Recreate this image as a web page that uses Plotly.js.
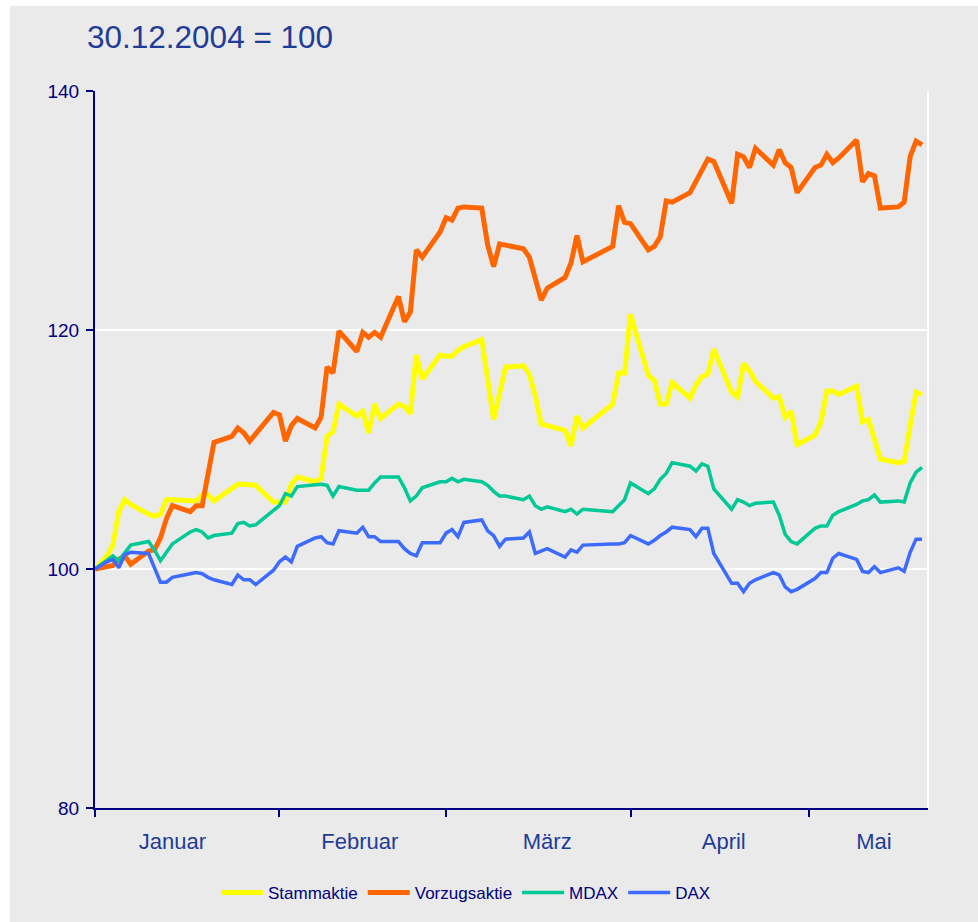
<!DOCTYPE html>
<html>
<head>
<meta charset="utf-8">
<script src="https://cdn.plot.ly/plotly-3.0.1.min.js"></script>
<style>
  html, body { margin: 0; padding: 0; background: #ffffff; }
  #chart { width: 978px; height: 922px; }
</style>
</head>
<body>
<div id="chart"></div>
<script>
// Trading days (first entry = base 30.12.2004 = 100, placed at the start of the axis)
const dates = [
  '2005-01-01',
  '2005-01-03','2005-01-04','2005-01-05','2005-01-06','2005-01-07',
  '2005-01-10','2005-01-11','2005-01-12','2005-01-13','2005-01-14',
  '2005-01-17','2005-01-18','2005-01-19','2005-01-20','2005-01-21',
  '2005-01-24','2005-01-25','2005-01-26','2005-01-27','2005-01-28',
  '2005-01-31',
  '2005-02-01','2005-02-02','2005-02-03','2005-02-04',
  '2005-02-07','2005-02-08','2005-02-09','2005-02-10','2005-02-11',
  '2005-02-14','2005-02-15','2005-02-16','2005-02-17','2005-02-18',
  '2005-02-21','2005-02-22','2005-02-23','2005-02-24','2005-02-25',
  '2005-02-28',
  '2005-03-01','2005-03-02','2005-03-03','2005-03-04',
  '2005-03-07','2005-03-08','2005-03-09','2005-03-10','2005-03-11',
  '2005-03-14','2005-03-15','2005-03-16','2005-03-17','2005-03-18',
  '2005-03-21','2005-03-22','2005-03-23','2005-03-24',
  '2005-03-29','2005-03-30','2005-03-31',
  '2005-04-01',
  '2005-04-04','2005-04-05','2005-04-06','2005-04-07','2005-04-08',
  '2005-04-11','2005-04-12','2005-04-13','2005-04-14','2005-04-15',
  '2005-04-18','2005-04-19','2005-04-20','2005-04-21','2005-04-22',
  '2005-04-25','2005-04-26','2005-04-27','2005-04-28','2005-04-29',
  '2005-05-02','2005-05-03','2005-05-04','2005-05-05','2005-05-06',
  '2005-05-09','2005-05-10','2005-05-11','2005-05-12','2005-05-13',
  '2005-05-16','2005-05-17','2005-05-18','2005-05-19','2005-05-20'
];

const stammaktie = [
  100,
  101.1, 102.0, 104.8, 105.8, 105.4, 104.6, 104.4, 104.6, 105.8, 105.8,
  105.8, 105.7, 106.2, 106.2, 105.7, 106.8, 107.1, 107.1, 107.1, 107.0, 105.6,
  105.6, 105.6, 107.1, 107.7, 107.3, 107.6, 111.1, 111.5, 113.8, 112.8,
  113.2, 111.4, 113.8, 112.6, 113.8, 113.6, 113.0, 117.9, 115.9, 117.9,
  117.8, 117.8, 118.3, 118.6, 119.2, 115.9, 112.5, 114.7, 116.9, 117.0,
  116.3, 114.5, 112.1, 112.0, 111.6, 110.3, 112.8, 111.8, 113.8, 116.4, 116.4,
  121.3, 116.2, 115.8, 113.8, 113.8, 115.6, 114.3, 115.4, 116.1, 116.3,
  118.4, 114.8, 114.4, 117.2, 116.6, 115.7, 114.3, 114.4, 112.7, 113.2, 110.4,
  111.2, 112.3, 114.9, 114.9, 114.6, 115.3, 112.3, 112.5, 111.0, 109.2,
  108.9, 109.0, 112.0, 114.8, 114.6
];

const vorzugsaktie = [
  100,
  100.2, 100.3, 100.8, 101.1, 100.4, 101.5, 101.6, 102.6, 104.2, 105.3,
  104.8, 105.3, 105.3, 107.7, 110.6, 111.1, 111.8, 111.4, 110.7, 111.3, 113.1,
  112.9, 110.7, 112.0, 112.6, 111.8, 112.7, 116.9, 116.4, 119.9, 118.2,
  119.8, 119.4, 119.8, 119.4, 122.8, 120.7, 121.5, 126.7, 126.1, 128.2,
  129.4, 129.2, 130.2, 130.3, 130.2, 127.1, 125.3, 127.2, 127.1, 126.8,
  126.1, 124.3, 122.5, 123.5, 124.4, 125.6, 127.9, 125.7, 127.0, 130.4, 129.0,
  128.9, 126.7, 127.0, 127.8, 130.8, 130.7, 131.5, 132.4, 133.4, 134.3,
  134.1, 130.6, 134.7, 134.5, 133.6, 135.2, 133.8, 135.1, 134.0, 133.6, 131.5,
  133.6, 133.8, 134.7, 134.0, 134.4, 135.9, 132.4, 133.1, 132.9, 130.2,
  130.3, 130.7, 134.5, 135.8, 135.5
];

const mdax = [
  100,
  100.7, 101.1, 100.7, 101.4, 102.0, 102.3, 101.6, 100.7, 101.4, 102.1,
  103.1, 103.3, 103.1, 102.6, 102.8, 103.0, 103.8, 103.9, 103.6, 103.7, 104.9,
  105.3, 106.3, 106.1, 106.9, 107.0, 107.1, 107.0, 106.1, 106.9, 106.6,
  106.6, 106.6, 107.2, 107.7, 107.7, 106.8, 105.7, 106.1, 106.8, 107.3,
  107.3, 107.6, 107.3, 107.5, 107.3, 107.0, 106.5, 106.1, 106.1, 105.8,
  106.1, 105.3, 105.0, 105.2, 104.8, 105.0, 104.6, 105.0, 104.8, 105.3, 105.8,
  107.2, 106.3, 106.7, 107.5, 108.0, 108.9, 108.6, 108.2, 108.8, 108.6,
  106.7, 105.0, 105.8, 105.6, 105.3, 105.5, 105.6, 104.5, 102.9, 102.3, 102.1,
  103.4, 103.6, 103.6, 104.5, 104.8, 105.4, 105.7, 105.8, 106.2, 105.6,
  105.7, 105.6, 107.2, 108.1, 108.5
];

const dax = [
  100,
  100.6, 100.8, 100.1, 101.2, 101.4, 101.3, 100.1, 98.9, 98.9, 99.3,
  99.6, 99.7, 99.6, 99.3, 99.1, 98.7, 99.5, 99.1, 99.1, 98.7, 99.9,
  100.6, 101.0, 100.6, 101.9, 102.6, 102.7, 102.2, 102.1, 103.2, 103.0,
  103.5, 102.7, 102.7, 102.3, 102.3, 101.7, 101.3, 101.1, 102.2, 102.2,
  103.0, 103.3, 102.7, 103.9, 104.1, 103.2, 102.8, 101.9, 102.5, 102.6,
  103.1, 101.3, 101.5, 101.7, 101.0, 101.6, 101.4, 102.0, 102.1, 102.1, 102.2,
  102.8, 102.1, 102.4, 102.8, 103.1, 103.5, 103.3, 102.7, 103.4, 103.4,
  101.3, 98.8, 98.8, 98.1, 98.8, 99.1, 99.7, 99.5, 98.5, 98.1, 98.3,
  99.2, 99.7, 99.7, 100.9, 101.3, 100.8, 99.8, 99.7, 100.2, 99.7,
  100.1, 99.8, 101.4, 102.5, 102.5
];

const seriesNames = ['Stammaktie', 'Vorzugsaktie', 'MDAX', 'DAX'];
const monthLabels = ['Januar', 'Februar', 'März', 'April', 'Mai'];
const monthLabelPos = ['2005-01-14', '2005-02-14 12:00', '2005-03-18', '2005-04-16 16:00', '2005-05-11 22:00'];
const monthBounds = ['2005-01-01', '2005-02-01', '2005-03-01', '2005-04-01', '2005-05-01'];
const yTicks = [80, 100, 120, 140];

const FONT = 'Liberation Sans, Arial, Helvetica, sans-serif';
const NAVY = '#000080';
const BLUE_TXT = '#1f3c98';

const styles = [
  {color: '#FFFF00', width: 5},
  {color: '#FF6600', width: 5},
  {color: '#00C896', width: 3.5},
  {color: '#3D6BFF', width: 3.5}
];
const values = [stammaktie, vorzugsaktie, mdax, dax];

const traces = values.map((v, i) => ({
  type: 'scatter',
  mode: 'lines',
  x: dates,
  y: v,
  name: seriesNames[i],
  line: {color: styles[i].color, width: styles[i].width},
  hoverinfo: 'skip'
}));

const L = 95, R = 50, T = 91, B = 113, W = 978, H = 922;
const pw = W - L - R, ph = H - T - B;
const px = p => (p - L) / pw;
const py = p => (H - B - p) / ph;

const layout = {
  width: W, height: H,
  margin: {l: L, r: R, t: T, b: B, pad: 0},
  paper_bgcolor: '#ffffff',
  plot_bgcolor: 'rgba(0,0,0,0)',
  font: {family: FONT, color: NAVY},
  title: {
    text: '30.12.2004 = 100',
    font: {family: FONT, size: 31.5, color: BLUE_TXT},
    xref: 'container', x: 87 / W, xanchor: 'left',
    yref: 'container', y: 1 - 37 / H, yanchor: 'middle'
  },
  showlegend: true,
  legend: {
    orientation: 'h',
    xref: 'paper', yref: 'paper',
    x: px(216), xanchor: 'left',
    y: py(893), yanchor: 'middle',
    font: {family: FONT, size: 17, color: NAVY},
    bgcolor: 'rgba(0,0,0,0)',
    itemwidth: 42,
    itemclick: false, itemdoubleclick: false,
    tracegroupgap: 0
  },
  xaxis: {
    type: 'date',
    range: ['2005-01-01', '2005-05-21'],
    showgrid: false,
    zeroline: false,
    showline: true, linecolor: NAVY, linewidth: 2,
    tickmode: 'array',
    tickvals: monthLabelPos,
    ticktext: monthLabels,
    ticks: '',
    ticklabelstandoff: 13,
    tickfont: {family: FONT, size: 22, color: BLUE_TXT},
    minor: {
      tickmode: 'array',
      tickvals: monthBounds,
      ticks: 'outside', ticklen: 7, tickwidth: 2, tickcolor: NAVY,
      showgrid: false
    },
    fixedrange: true
  },
  yaxis: {
    range: [80, 140],
    tickmode: 'array',
    tickvals: yTicks,
    showgrid: true, gridcolor: '#ffffff', gridwidth: 2,
    zeroline: false,
    showline: true, linecolor: NAVY, linewidth: 2,
    ticks: 'outside', ticklen: 7, tickwidth: 2, tickcolor: NAVY,
    ticklabelstandoff: 3,
    tickfont: {family: FONT, size: 19, color: NAVY},
    fixedrange: true
  },
  shapes: [
    {
      type: 'rect', layer: 'below', xref: 'paper', yref: 'paper',
      x0: px(10), x1: px(W + 20), y0: py(6), y1: py(H + 20),
      fillcolor: '#EAEAEA', line: {width: 0}
    },
    {
      type: 'line', layer: 'below', xref: 'paper', yref: 'paper',
      x0: 1, x1: 1, y0: 0, y1: 1,
      line: {color: '#ffffff', width: 2}
    }
  ],
  hovermode: false
};

Plotly.newPlot('chart', traces, layout, {displayModeBar: false, staticPlot: true});
</script>
</body>
</html>
